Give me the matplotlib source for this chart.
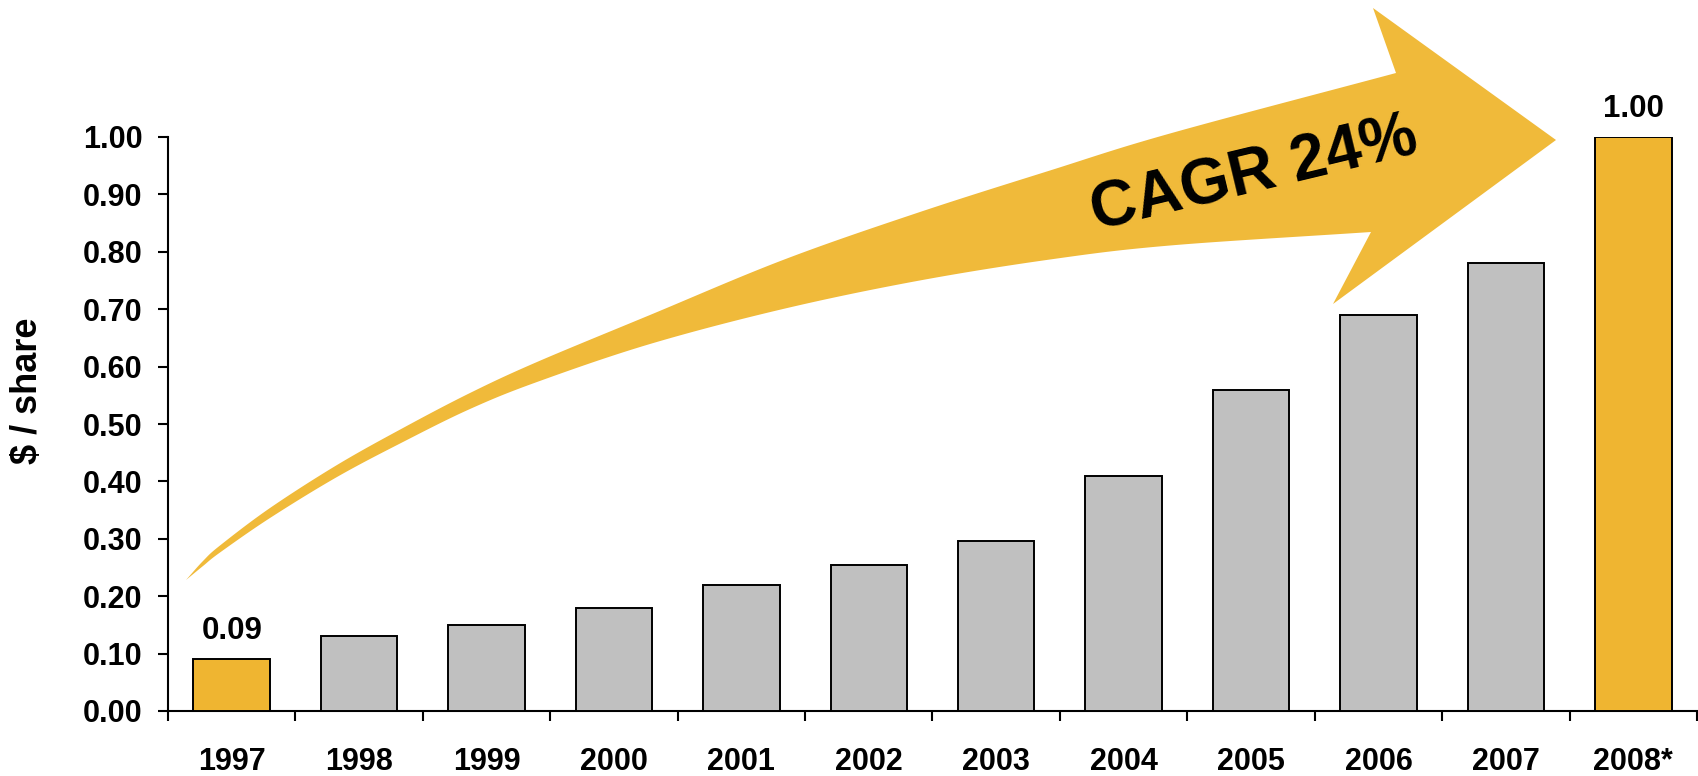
import numpy as np
import matplotlib
matplotlib.use("Agg")
import matplotlib.pyplot as plt
from matplotlib.patches import Polygon
from matplotlib.ticker import FormatStrFormatter

plt.rcParams["font.family"] = ["Liberation Sans", "DejaVu Sans"]
plt.rcParams["font.weight"] = "bold"

# Dividend per share, 1997-2008 (2008 estimated)
years = ["1997", "1998", "1999", "2000", "2001", "2002",
         "2003", "2004", "2005", "2006", "2007", "2008*"]
dividends = [0.09, 0.13, 0.15, 0.18, 0.22, 0.255,
             0.297, 0.41, 0.56, 0.69, 0.78, 1.00]
highlighted = [True, False, False, False, False, False,
               False, False, False, False, False, True]
labelled = [True] + [False] * 10 + [True]
y_ticks = [0.0, 0.1, 0.2, 0.3, 0.4, 0.5, 0.6, 0.7, 0.8, 0.9, 1.0]
y_label = "\\$ / share"
growth_label = "CAGR 24%"

GOLD = "#EFB531"
ARROW = "#F0BA3A"
GREY = "#C0C0C0"

W, H = 1699, 776
fig = plt.figure(figsize=(W / 100, H / 100), dpi=100)
ax = fig.add_axes([168 / W, 65 / H, (1697 - 168) / W, (711 - 137) / H])

x = np.arange(len(years))
ax.bar(x, dividends, width=0.6,
       color=[GOLD if h else GREY for h in highlighted],
       edgecolor="black", linewidth=1.4, zorder=3)

for xi, v, show in zip(x, dividends, labelled):
    if show:
        ax.annotate(f"{v:.2f}", (xi, v), xytext=(0, 14.5), textcoords="offset points",
                    ha="center", va="baseline", fontsize=22.5, fontweight="bold")

ax.set_xlim(-0.5, len(years) - 0.5)
ax.set_ylim(0, 1.0)
for side in ("top", "right"):
    ax.spines[side].set_visible(False)
for side in ("left", "bottom"):
    ax.spines[side].set_linewidth(1.5)

ax.set_yticks(y_ticks)
ax.yaxis.set_major_formatter(FormatStrFormatter("%.2f"))
ax.tick_params(axis="y", length=7.5, width=1.5, pad=11, labelsize=22)

ax.set_xticks(x)
ax.set_xticklabels(years)
ax.set_xticks(np.arange(-0.5, len(years), 1.0), minor=True)
ax.tick_params(axis="x", which="major", length=0, pad=26, labelsize=22)
ax.tick_params(axis="x", which="minor", length=7.5, width=1.5, direction="out")
for lab in ax.get_xticklabels() + ax.get_yticklabels():
    lab.set_fontweight("bold")

fig.text(28 / W, 1 - 391 / H, y_label, rotation=90, ha="center", va="center",
         fontsize=26, fontweight="bold")


# Curved growth arrow, outlined in canvas pixels (origin top-left)
def catmull_rom(pts, n=24):
    pts = np.asarray(pts, float)
    p = np.vstack([2 * pts[0] - pts[1], pts, 2 * pts[-1] - pts[-2]])
    out = []
    t = np.linspace(0, 1, n, endpoint=False)[:, None]
    for i in range(1, len(p) - 2):
        p0, p1, p2, p3 = p[i - 1], p[i], p[i + 1], p[i + 2]
        out.append(0.5 * (2 * p1 + (-p0 + p2) * t
                          + (2 * p0 - 5 * p1 + 4 * p2 - p3) * t ** 2
                          + (-p0 + 3 * p1 - 3 * p2 + p3) * t ** 3))
    out.append(p[-2][None])
    return np.vstack(out)


upper_edge = [(186, 580), (203, 561), (220, 545.5), (270, 508), (337, 465),
              (403, 428), (470, 393), (537, 362), (650, 315), (783, 260),
              (917, 213), (1050, 170.5), (1170, 133.5), (1396, 73)]
head = [(1373, 8), (1556, 140), (1333, 304)]
lower_edge = [(1371, 232), (1170, 245.5), (1050, 259.5), (917, 281), (783, 309),
              (650, 344), (537, 382), (470, 409), (403, 442), (337, 477),
              (270, 518), (220, 552.5), (203, 566), (186, 580)]

outline = np.vstack([catmull_rom(upper_edge), np.array(head, float),
                     catmull_rom(lower_edge)])
outline_fig = np.column_stack([outline[:, 0] / W, 1 - outline[:, 1] / H])
fig.add_artist(Polygon(outline_fig, closed=True, facecolor=ARROW,
                       edgecolor="none", transform=fig.transFigure, zorder=1))

fig.text(1254 / W, 1 - 175 / H, growth_label, rotation=13.5, rotation_mode="anchor",
         ha="center", va="center", fontsize=46, fontweight="bold", zorder=5)

fig.savefig("out.png", dpi=100, facecolor="white")
